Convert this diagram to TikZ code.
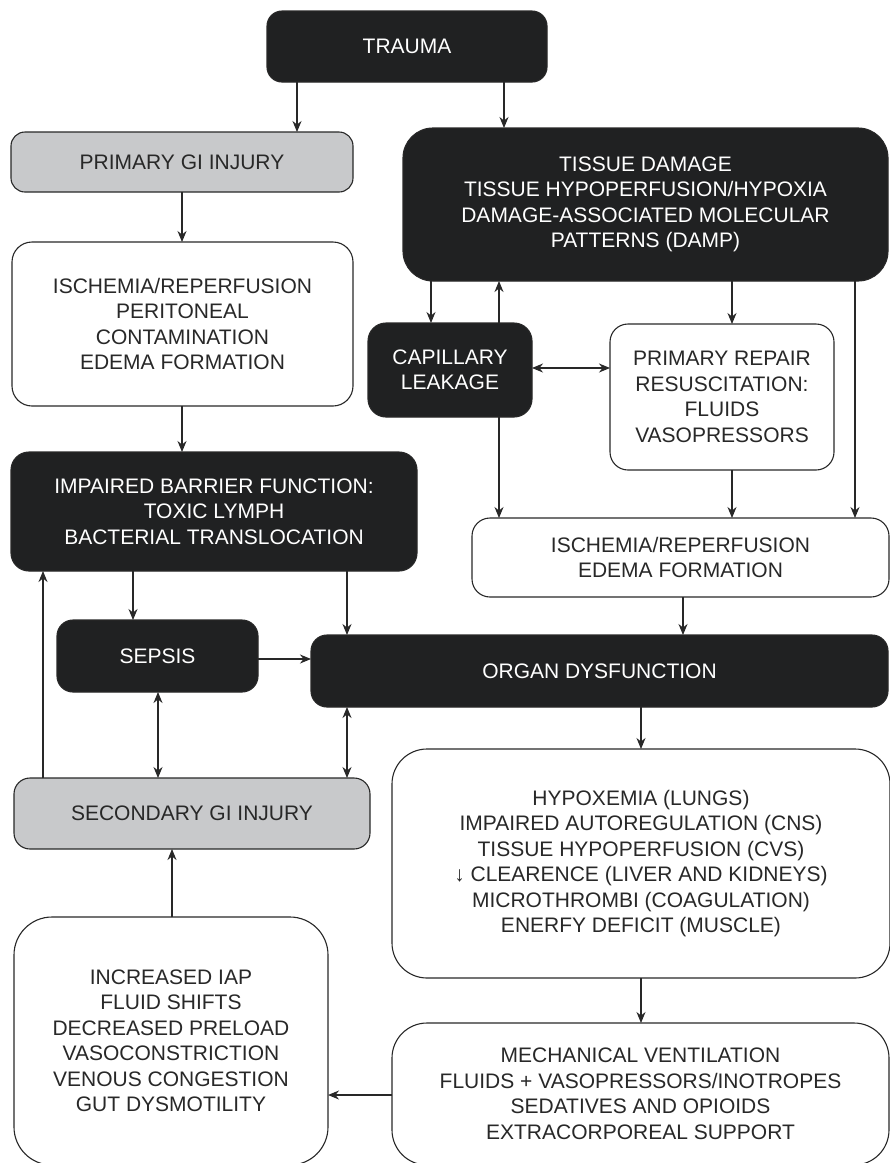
\documentclass[tikz,border=0pt]{standalone}
\usepackage{fontspec}
\setmainfont{Liberation Sans}
\usetikzlibrary{arrows.meta}
\definecolor{boxdark}{RGB}{32,33,34}
\definecolor{boxgray}{RGB}{200,201,203}
\definecolor{lineink}{RGB}{40,40,40}
\begin{document}
\begin{tikzpicture}[x=1pt,y=-1pt,
  box/.style={draw=lineink, line width=1.1pt, align=center, inner sep=0pt, outer sep=0pt,
    font=\fontsize{21}{25.5}\selectfont},
  darkbox/.style={box, fill=boxdark, text=white},
  graybox/.style={box, fill=boxgray, text=lineink},
  whitebox/.style={box, fill=white, text=lineink},
  arr/.style={draw=lineink, line width=1.1pt, -{Stealth[length=11pt,width=9pt,inset=3.5pt]}},
  darr/.style={arr, {Stealth[length=11pt,width=9pt,inset=3.5pt]}-{Stealth[length=11pt,width=9pt,inset=3.5pt]}}]
\useasboundingbox (0,0) rectangle (890,1163);
\clip (0,0) rectangle (890,1163);

% boxes
\node[darkbox, minimum width=280pt, minimum height=71pt, rounded corners=15pt] (trauma) at (407,46.5) {TRAUMA};
\node[graybox, minimum width=342pt, minimum height=60pt, rounded corners=14pt] (gi1) at (182,162) {PRIMARY GI INJURY};
\node[darkbox, minimum width=485pt, minimum height=153pt, rounded corners=30pt] (tissue) at (645.5,204.5)
  {TISSUE DAMAGE\\TISSUE HYPOPERFUSION/HYPOXIA\\DAMAGE-ASSOCIATED MOLECULAR\\PATTERNS (DAMP)};
\node[whitebox, minimum width=341pt, minimum height=164pt, rounded corners=20pt] (isch1) at (182.5,324)
  {ISCHEMIA/REPERFUSION\\PERITONEAL\\CONTAMINATION\\EDEMA FORMATION};
\node[darkbox, minimum width=164pt, minimum height=94pt, rounded corners=18pt] (leak) at (450,370)
  {CAPILLARY\\LEAKAGE};
\node[whitebox, minimum width=224pt, minimum height=146pt, rounded corners=18pt] (repair) at (722,397)
  {PRIMARY REPAIR\\RESUSCITATION:\\FLUIDS\\VASOPRESSORS};
\node[darkbox, minimum width=406pt, minimum height=119pt, rounded corners=18pt] (barrier) at (214,511.5)
  {IMPAIRED BARRIER FUNCTION:\\TOXIC LYMPH\\BACTERIAL TRANSLOCATION};
\node[whitebox, minimum width=417pt, minimum height=79pt, rounded corners=18pt] (isch2) at (680.5,557.5)
  {ISCHEMIA/REPERFUSION\\EDEMA FORMATION};
\node[darkbox, minimum width=201pt, minimum height=72pt, rounded corners=16pt] (sepsis) at (157.5,656) {SEPSIS};
\node[darkbox, minimum width=577pt, minimum height=72pt, rounded corners=16pt] (organ) at (599.5,671) {ORGAN DYSFUNCTION};
\node[graybox, minimum width=356pt, minimum height=71pt, rounded corners=16pt] (gi2) at (192,813.5) {SECONDARY GI INJURY};
\node[whitebox, minimum width=498pt, minimum height=229pt, rounded corners=35pt] (organs) at (641,863.5)
  {HYPOXEMIA (LUNGS)\\IMPAIRED AUTOREGULATION (CNS)\\TISSUE HYPOPERFUSION (CVS)\\↓ CLEARENCE (LIVER AND KIDNEYS)\\MICROTHROMBI (COAGULATION)\\ENERFY DEFICIT (MUSCLE)};
\node[whitebox, minimum width=314pt, minimum height=248pt, rounded corners=38pt] (iap) at (171,1041)
  {INCREASED IAP\\FLUID SHIFTS\\DECREASED PRELOAD\\VASOCONSTRICTION\\VENOUS CONGESTION\\GUT DYSMOTILITY};
\node[whitebox, minimum width=497pt, minimum height=142pt, rounded corners=35pt] (support) at (640.5,1094)
  {MECHANICAL VENTILATION\\FLUIDS + VASOPRESSORS/INOTROPES\\SEDATIVES AND OPIOIDS\\EXTRACORPOREAL SUPPORT};

% arrow columns and rows
\coordinate (c1) at (297,0);
\coordinate (c2) at (504,0);
\coordinate (c3) at (182,0);
\coordinate (c4) at (431,0);
\coordinate (c5) at (499,0);
\coordinate (c6) at (732,0);
\coordinate (c7) at (855,0);
\coordinate (c8) at (683,0);
\coordinate (c9) at (43,0);
\coordinate (c10) at (133,0);
\coordinate (c11) at (347,0);
\coordinate (c12) at (158,0);
\coordinate (c13) at (641,0);
\coordinate (c14) at (172,0);
\coordinate (r1) at (0,368);
\coordinate (r2) at (0,659);
\coordinate (r3) at (0,1095);

% connectors
\draw[arr] (trauma.south -| c1) -- (gi1.north -| c1);
\draw[arr] (trauma.south -| c2) -- (tissue.north -| c2);
\draw[arr] (gi1.south -| c3) -- (isch1.north -| c3);
\draw[arr] (isch1.south -| c3) -- (barrier.north -| c3);
\draw[arr] (tissue.south -| c4) -- (leak.north -| c4);
\draw[arr] (leak.north -| c5) -- (tissue.south -| c5);
\draw[arr] (tissue.south -| c6) -- (repair.north -| c6);
\draw[arr] (tissue.south -| c7) -- (isch2.north -| c7);
\draw[darr] (leak.east |- r1) -- (repair.west |- r1);
\draw[arr] (leak.south -| c5) -- (isch2.north -| c5);
\draw[arr] (repair.south -| c6) -- (isch2.north -| c6);
\draw[arr] (isch2.south -| c8) -- (organ.north -| c8);
\draw[arr] (barrier.south -| c10) -- (sepsis.north -| c10);
\draw[arr] (barrier.south -| c11) -- (organ.north -| c11);
\draw[arr] (sepsis.east |- r2) -- (organ.west |- r2);
\draw[darr] (sepsis.south -| c12) -- (gi2.north -| c12);
\draw[darr] (organ.south -| c11) -- (gi2.north -| c11);
\draw[arr] (gi2.north -| c9) -- (barrier.south -| c9);
\draw[arr] (organ.south -| c13) -- (organs.north -| c13);
\draw[arr] (organs.south -| c13) -- (support.north -| c13);
\draw[arr] (support.west |- r3) -- (iap.east |- r3);
\draw[arr] (iap.north -| c14) -- (gi2.south -| c14);
\end{tikzpicture}
\end{document}
